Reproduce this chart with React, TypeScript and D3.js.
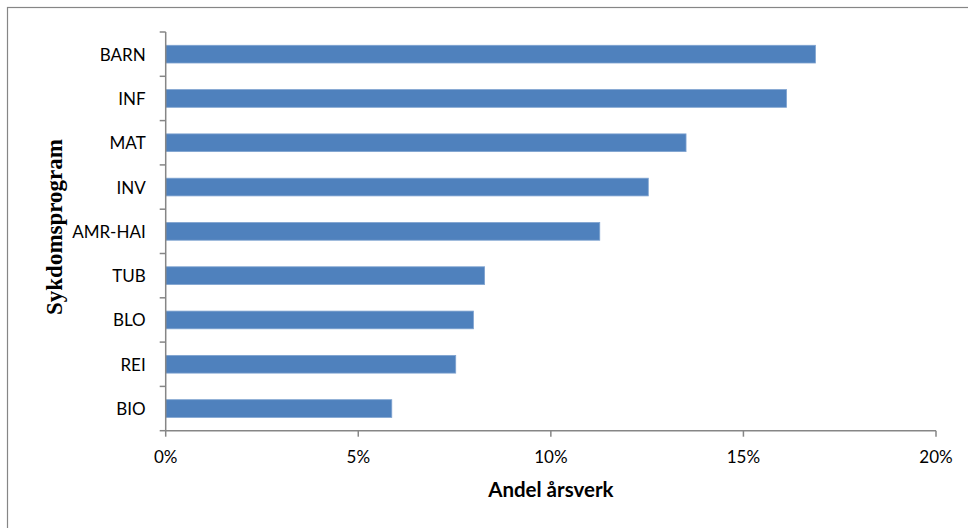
import React from "react";
import * as d3 from "d3";

// Share of person-years per disease programme
const programs = ["BARN", "INF", "MAT", "INV", "AMR-HAI", "TUB", "BLO", "REI", "BIO"];
const shares = [0.1687, 0.1612, 0.1351, 0.1253, 0.1127, 0.0828, 0.0799, 0.0753, 0.0587];
const xTicks = [0, 0.05, 0.1, 0.15, 0.2];

const W = 968;
const H = 528;
const plot = { left: 165.7, right: 936, top: 32, bottom: 430.7 };

const axisColor = "#868686";
const barColor = "#4F81BD";
const labelFont = "Lato, 'Liberation Sans', sans-serif";

export default function App() {
  const x = d3.scaleLinear().domain([0, 0.2]).range([plot.left, plot.right]);
  const y = d3
    .scaleBand<string>()
    .domain(programs)
    .range([plot.top, plot.bottom])
    .paddingInner(0.6)
    .paddingOuter(0.3);
  const bandEdges = d3.range(programs.length + 1).map((i) => plot.top + i * (plot.bottom - plot.top) / programs.length);
  const fmt = d3.format(".0%");

  return (
    <svg
      width={W}
      height={H}
      style={{ position: "absolute", left: 0, top: 0, background: "#fff" }}
    >
      <rect x={7.5} y={7.5} width={W + 10} height={H + 10} fill="#fff" stroke={axisColor} strokeWidth={1.2} />

      {/* bars */}
      {programs.map((p, i) => (
        <rect
          key={p}
          x={x(0)}
          y={y(p)}
          width={x(shares[i]) - x(0)}
          height={y.bandwidth()}
          fill={barColor}
          stroke="#7fa3d0"
          strokeWidth={0.8}
        />
      ))}

      {/* category axis */}
      <line x1={plot.left} x2={plot.left} y1={plot.top} y2={plot.bottom} stroke={axisColor} strokeWidth={1.5} />
      {bandEdges.map((e, i) => (
        <line key={i} x1={plot.left - 6} x2={plot.left} y1={e} y2={e} stroke={axisColor} strokeWidth={1.5} />
      ))}
      {programs.map((p) => (
        <text
          key={p}
          x={plot.left - 20}
          y={(y(p) as number) + y.bandwidth() / 2}
          textAnchor="end"
          dominantBaseline="central"
          fontFamily={labelFont}
          fontSize={17}
          fill="#000"
        >
          {p}
        </text>
      ))}

      {/* value axis */}
      <line x1={plot.left} x2={plot.right} y1={plot.bottom} y2={plot.bottom} stroke={axisColor} strokeWidth={1.5} />
      {xTicks.map((t) => (
        <g key={t}>
          <line x1={x(t)} x2={x(t)} y1={plot.bottom} y2={plot.bottom + 6} stroke={axisColor} strokeWidth={1.5} />
          <text
            x={x(t)}
            y={463}
            textAnchor="middle"
            fontFamily={labelFont}
            fontSize={17}
            fill="#000"
          >
            {fmt(t)}
          </text>
        </g>
      ))}

      <text
        x={(plot.left + plot.right) / 2}
        y={497}
        textAnchor="middle"
        fontFamily={labelFont}
        fontWeight="bold"
        fontSize={20.5}
        fill="#000"
      >
        Andel årsverk
      </text>

      <text
        transform="translate(54,227) rotate(-90)"
        textAnchor="middle"
        dominantBaseline="central"
        fontFamily="'Liberation Serif', 'DejaVu Serif', serif"
        fontWeight="bold"
        fontSize={23}
        fill="#000"
      >
        Sykdomsprogram
      </text>
    </svg>
  );
}
